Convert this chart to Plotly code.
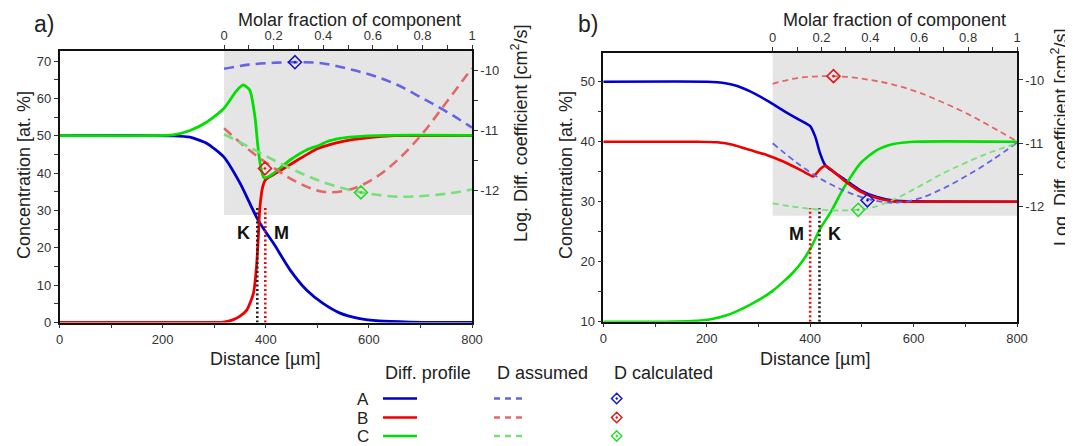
import plotly.graph_objects as go

# The page body has an 8px margin, so the figure is drawn 8px in and 8px down.
OFF = 8
W, H = 1073 - OFF, 446 - OFF

# ---------------- data: panel a ----------------
a_dist_A = [0, 150, 220, 253, 285, 318, 350, 369, 385, 400, 415, 447, 479, 511, 544, 580, 620, 680, 800]
a_conc_A = [50, 50, 49.95, 49.6, 48.0, 44.4, 37.3, 31.9, 27.4, 24.2, 21.2, 14.1, 8.7, 5.1, 2.5, 1.1, 0.4, 0.1, 0]

a_dist_B = [0, 300, 318, 336, 350, 363, 376, 382, 385.5, 388.7, 394, 400, 420, 450, 500, 550, 600, 650, 800]
a_conc_B = [0, 0, 0.1, 0.7, 1.7, 3.3, 7.8, 15, 23, 31, 36.3, 38.3, 40, 42.5, 46.5, 48.5, 49.5, 50, 50]

a_dist_C = [0, 180, 220, 253, 285, 318, 343, 356, 369, 379, 384, 389, 396, 405, 415, 447, 479, 505, 518, 544, 570, 634, 800]
a_conc_C = [50, 50, 50.2, 51.4, 53.6, 57.2, 62, 63.6, 62.2, 55, 48, 42.6, 38.8, 39.0, 39.9, 43.5, 46.2, 47.5, 48.4, 49.3, 49.7, 50.1, 50.1]

mol_frac = [0, 0.1, 0.2, 0.3, 0.4, 0.5, 0.6, 0.7, 0.8, 0.9, 1.0]
a_logD_A = [-9.98, -9.91, -9.88, -9.87, -9.89, -9.98, -10.09, -10.25, -10.47, -10.70, -10.96]
a_logD_B = [-10.97, -11.33, -11.63, -11.88, -12.03, -12.0, -11.82, -11.5, -11.06, -10.52, -9.97]
a_logD_C = [-11.07, -11.28, -11.5, -11.7, -11.87, -11.99, -12.07, -12.11, -12.1, -12.06, -11.99]

a_calc_frac = [0.286, 0.165, 0.552]
a_calc_logD = [-9.87, -11.64, -12.04]

a_kirkendall = 383.5
a_matano = 399
a_marker_top = 31.0

# ---------------- data: panel b ----------------
b_dist_A = [0, 200, 220, 252, 284, 316, 348, 380, 400, 410, 419, 429, 445, 465, 497, 529, 561, 600, 800]
b_conc_A = [50, 50, 49.9, 49.45, 48.4, 46.9, 45.2, 43.6, 42.6, 40.8, 38.1, 36.1, 35.0, 33.8, 31.9, 30.8, 30.2, 30.05, 30]

b_dist_B = [0, 180, 220, 252, 284, 316, 348, 381, 398, 405, 412, 420, 429, 440, 465, 497, 529, 561, 600, 800]
b_conc_B = [40, 40, 39.9, 39.45, 38.6, 37.8, 36.7, 35.3, 34.5, 34.2, 34.7, 35.5, 35.95, 35.4, 33.6, 31.7, 30.6, 30.05, 30, 30]

b_dist_C = [0, 120, 170, 208, 240, 274, 300, 327, 350, 367, 386, 403, 420, 440, 459, 470, 497, 529, 561, 600, 800]
b_conc_C = [10, 10, 10.1, 10.4, 11.1, 12.4, 13.6, 15.1, 16.8, 18.2, 20.2, 22.6, 25.6, 28.3, 31.4, 33.0, 36.4, 38.6, 39.6, 40, 40]

b_logD_A = [-11.0, -11.31, -11.57, -11.76, -11.89, -11.94, -11.87, -11.71, -11.5, -11.26, -10.99]
b_logD_B = [-10.06, -9.97, -9.94, -9.95, -10.0, -10.08, -10.2, -10.36, -10.54, -10.75, -10.97]
b_logD_C = [-11.95, -12.01, -12.05, -12.06, -12.02, -11.88, -11.68, -11.47, -11.29, -11.13, -11.0]

b_calc_frac = [0.388, 0.249, 0.35]
b_calc_logD = [-11.9, -9.94, -12.05]

b_kirkendall = 418
b_matano = 400
b_marker_top = 28.9

dist_ticks = [0, 200, 400, 600, 800]
frac_ticks = [0, 0.2, 0.4, 0.6, 0.8, 1.0]
frac_ticktext = ["0", "0.2", "0.4", "0.6", "0.8", "1"]
logD_ticks = [-10, -11, -12]
logD_ticktext = ["-10", "-11", "-12"]

# ---------------- styling ----------------
FONT = "Arial, Liberation Sans, sans-serif"
TXT = "#222222"
SOLID = {"A": "#0000CC", "B": "#EE0000", "C": "#00E000"}
DASH = {"A": "#6464E4", "B": "#E26868", "C": "#78E078"}
MARK = {"A": "#1818C8", "B": "#E01818", "C": "#28DC28"}
GRAY = "#E5E5E5"


def px2paper_x(px):
    return (px - OFF) / W


def px2paper_y(py):
    return 1 - (py - OFF) / H


fig = go.Figure()

panels = [
    dict(x="x", y="y", xt="x2", yr="y2",
         dA=a_dist_A, cA=a_conc_A, dB=a_dist_B, cB=a_conc_B, dC=a_dist_C, cC=a_conc_C,
         lA=a_logD_A, lB=a_logD_B, lC=a_logD_C, cf=a_calc_frac, cl=a_calc_logD,
         kirk=a_kirkendall, mat=a_matano, top=a_marker_top, bottom=0,
         dash="10px,6px", dw=2.6, sw=2.8),
    dict(x="x3", y="y3", xt="x4", yr="y4",
         dA=b_dist_A, cA=b_conc_A, dB=b_dist_B, cB=b_conc_B, dC=b_dist_C, cC=b_conc_C,
         lA=b_logD_A, lB=b_logD_B, lC=b_logD_C, cf=b_calc_frac, cl=b_calc_logD,
         kirk=b_kirkendall, mat=b_matano, top=b_marker_top, bottom=10,
         dash="6px,4px", dw=1.8, sw=2.6),
]

for i, p in enumerate(panels):
    order = ["A", "B", "C"] if i == 0 else ["A", "C", "B"]
    for k in order:
        fig.add_trace(go.Scatter(x=p["d" + k], y=p["c" + k], mode="lines",
                                 line=dict(color=SOLID[k], width=p["sw"], shape="spline", smoothing=0.6),
                                 xaxis=p["x"], yaxis=p["y"], showlegend=False, hoverinfo="skip"))
    fig.add_trace(go.Scatter(x=[p["kirk"], p["kirk"]], y=[p["bottom"], p["top"]], mode="lines",
                             line=dict(color="#222222", width=2.6, dash="2px,2.5px"),
                             xaxis=p["x"], yaxis=p["y"], showlegend=False, hoverinfo="skip"))
    fig.add_trace(go.Scatter(x=[p["mat"], p["mat"]], y=[p["bottom"], p["top"]], mode="lines",
                             line=dict(color="#E01010", width=2.6, dash="2px,2.5px"),
                             xaxis=p["x"], yaxis=p["y"], showlegend=False, hoverinfo="skip"))
    for k in ["A", "B", "C"]:
        fig.add_trace(go.Scatter(x=mol_frac, y=p["l" + k], mode="lines",
                                 line=dict(color=DASH[k], width=p["dw"], dash=p["dash"], shape="spline"),
                                 xaxis=p["xt"], yaxis=p["yr"], showlegend=False, hoverinfo="skip"))
    for j, k in enumerate(["A", "B", "C"]):
        fig.add_trace(go.Scatter(x=[p["cf"][j]], y=[p["cl"][j]], mode="markers",
                                 marker=dict(symbol="diamond-open-dot", size=10, color=MARK[k],
                                             line=dict(width=1.6, color=MARK[k])),
                                 xaxis=p["xt"], yaxis=p["yr"], showlegend=False, hoverinfo="skip"))

# gray regions
fig.add_shape(type="rect", xref="x", yref="y", x0=319, x1=800, y0=28.78, y1=72.68,
              fillcolor=GRAY, line_width=0, layer="below")
fig.add_shape(type="rect", xref="x3", yref="y3", x0=327.5, x1=800, y0=27.67, y1=54.87,
              fillcolor=GRAY, line_width=0, layer="below")

tickfont = dict(family=FONT, size=13, color="#333333")
axcommon = dict(showline=True, linecolor="#111111", linewidth=1.5, ticks="outside", ticklen=4,
                tickwidth=1.2, tickcolor="#333333", showgrid=False, zeroline=False,
                tickfont=tickfont, automargin=False)

a_xdom = [px2paper_x(59.6), px2paper_x(472)]
a_ydom = [px2paper_y(322.5), px2paper_y(51)]
b_xdom = [px2paper_x(603.3), px2paper_x(1017)]
b_ydom = [px2paper_y(321.7), px2paper_y(52.5)]

minor_dist = dict(tickmode="array", tickvals=[100, 300, 500, 700], ticklen=4, ticks="outside")
minor_frac = dict(tickmode="array", tickvals=[0.1, 0.3, 0.5, 0.7, 0.9], ticklen=4, ticks="outside")
minor_logD = dict(tickmode="array", tickvals=[-10.5, -11.5], ticklen=4, ticks="outside")

fig.update_layout(
    width=W, height=H, margin=dict(l=0, r=0, t=0, b=0),
    paper_bgcolor="white", plot_bgcolor="rgba(0,0,0,0)", showlegend=False,
    xaxis=dict(domain=a_xdom, range=[0, 800], anchor="y", tickmode="array", tickvals=dist_ticks,
               minor=minor_dist, **axcommon),
    yaxis=dict(domain=a_ydom, range=[0, 72.68], anchor="x", tickmode="array",
               tickvals=[0, 10, 20, 30, 40, 50, 60, 70],
               minor=dict(tickmode="array", tickvals=[5, 15, 25, 35, 45, 55, 65], ticklen=4, ticks="outside"),
               **axcommon),
    xaxis2=dict(range=[-0.6632, 1.0], overlaying="x", side="top", anchor="y", tickmode="array",
                tickvals=frac_ticks, ticktext=frac_ticktext, minor=minor_frac, **axcommon),
    yaxis2=dict(range=[-14.208, -9.683], overlaying="y", side="right", anchor="x", tickmode="array",
                tickvals=logD_ticks, ticktext=logD_ticktext, minor=minor_logD, **axcommon),
    xaxis3=dict(domain=b_xdom, range=[0, 800], anchor="y3", tickmode="array", tickvals=dist_ticks,
                minor=minor_dist, **axcommon),
    yaxis3=dict(domain=b_ydom, range=[10, 54.87], anchor="x3", tickmode="array",
                tickvals=[10, 20, 30, 40, 50],
                minor=dict(tickmode="array", tickvals=[15, 25, 35, 45], ticklen=4, ticks="outside"),
                **axcommon),
    xaxis4=dict(range=[-0.6931, 1.0], overlaying="x3", side="top", anchor="y3", tickmode="array",
                tickvals=frac_ticks, ticktext=frac_ticktext, minor=minor_frac, **axcommon),
    yaxis4=dict(range=[-13.818, -9.566], overlaying="y3", side="right", anchor="x3", tickmode="array",
                tickvals=logD_ticks, ticktext=logD_ticktext, minor=minor_logD, **axcommon),
    xaxis5=dict(domain=[px2paper_x(340), px2paper_x(760)], range=[340, 760], anchor="y5",
                visible=False, fixedrange=True),
    yaxis5=dict(domain=[px2paper_y(446), px2paper_y(386)], range=[446, 386], anchor="x5",
                visible=False, fixedrange=True),
)

# ---------------- annotations ----------------
ann = []


def text(px, py, s, size=18, xanchor="center", yanchor="middle", angle=0, bold=False, ref=None):
    d = dict(text=("<b>%s</b>" % s) if bold else s, showarrow=False,
             font=dict(family=FONT, size=size, color="#111111" if bold else TXT),
             xanchor=xanchor, yanchor=yanchor, textangle=angle)
    if ref is None:
        d.update(x=px2paper_x(px), y=px2paper_y(py), xref="paper", yref="paper")
    else:
        d.update(x=px, y=py, xref=ref[0], yref=ref[1])
    ann.append(d)


text(44, 24, "a)", size=23)
text(588, 24, "b)", size=23)
text(349, 20, "Molar fraction of component")
text(894, 20, "Molar fraction of component")
text(24, 175, "Concentration [at. %]", angle=-90)
text(566, 175, "Concentration [at. %]", angle=-90)
text(519, 134, "Log. Diff. coefficient [cm<sup>2</sup>/s]", angle=-90)
text(1060, 138, "Log. Diff. coefficient [cm<sup>2</sup>/s]", angle=-90)
text(265, 359, "Distance [µm]")
text(815, 359, "Distance [µm]")
text(357.7, 23.9, "K", bold=True, ref=("x", "y"))
text(430.8, 23.9, "M", bold=True, ref=("x", "y"))
text(374.5, 24.6, "M", bold=True, ref=("x3", "y3"))
text(447.5, 24.6, "K", bold=True, ref=("x3", "y3"))

# legend
leg_rows = {"A": 398.5, "B": 417.5, "C": 436}
text(383, 373, "Diff. profile", xanchor="left")
text(495, 373, "D assumed", xanchor="left")
text(611.5, 373, "D calculated", xanchor="left")
for k, yy in leg_rows.items():
    text(362.7, yy + 0.5, k, size=17)
    fig.add_trace(go.Scatter(x=[383, 417], y=[yy, yy], mode="lines",
                             line=dict(color=SOLID[k], width=2.6), xaxis="x5", yaxis="y5",
                             showlegend=False, hoverinfo="skip", cliponaxis=False))
    fig.add_trace(go.Scatter(x=[494, 527], y=[yy, yy], mode="lines",
                             line=dict(color=DASH[k], width=2.4, dash="6px,5px"), xaxis="x5", yaxis="y5",
                             showlegend=False, hoverinfo="skip", cliponaxis=False))
    fig.add_trace(go.Scatter(x=[616.7], y=[yy], mode="markers",
                             marker=dict(symbol="diamond-open-dot", size=8, color=MARK[k],
                                         line=dict(width=1.5, color=MARK[k])),
                             xaxis="x5", yaxis="y5", showlegend=False, hoverinfo="skip", cliponaxis=False))

fig.update_layout(annotations=ann)
fig.write_html("out.html")
